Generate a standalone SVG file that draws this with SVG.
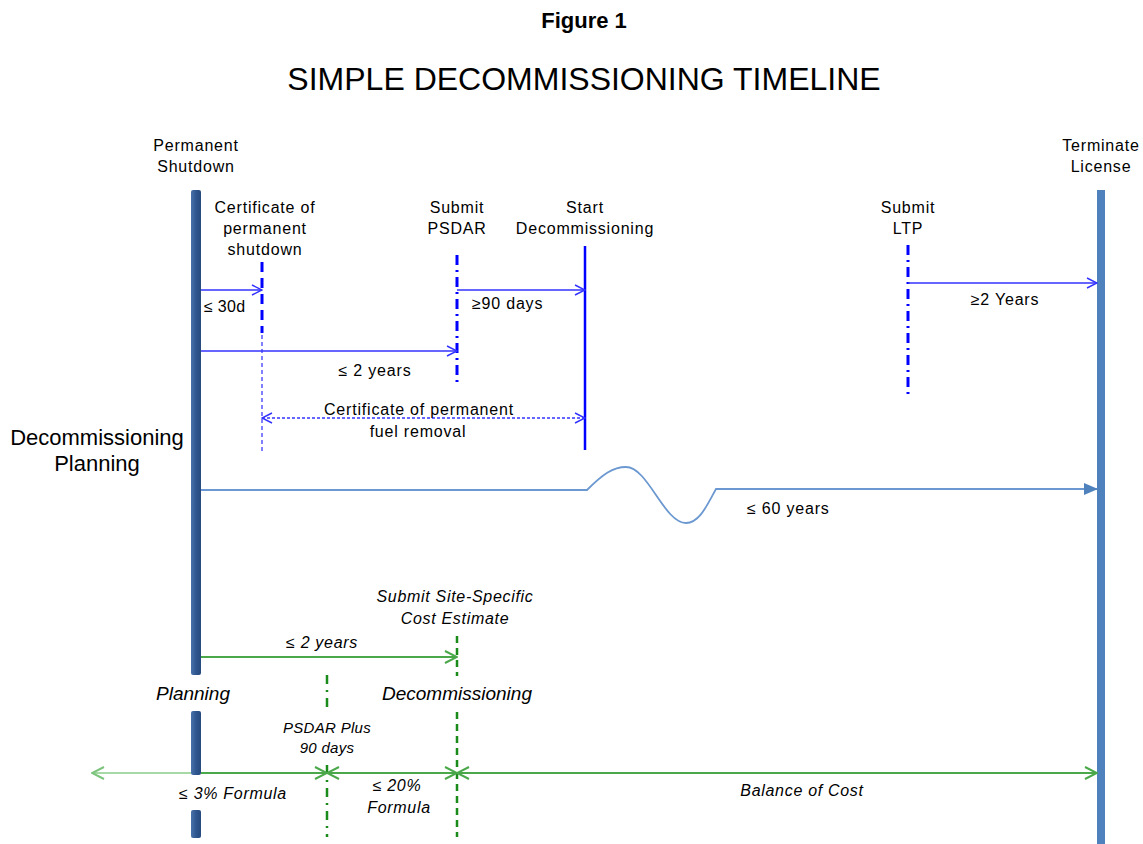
<svg xmlns="http://www.w3.org/2000/svg" width="1143" height="844" viewBox="0 0 1143 844">
<style>
text{font-family:"Liberation Sans",Arial,sans-serif;fill:#000}
.lbl{font-size:16px;letter-spacing:0.8px}
.it{font-style:italic;letter-spacing:0.7px}
.big{font-size:19px;font-style:italic}
.mid{text-anchor:middle}
.blu{stroke:#3333ff;stroke-width:1.5;fill:none}
.grn{stroke:#4aa84a;stroke-width:2;fill:none}
</style>
<defs>
<linearGradient id="barg" x1="0" x2="1" y1="0" y2="0">
<stop offset="0" stop-color="#4a72aa"/>
<stop offset="0.5" stop-color="#2f5690"/>
<stop offset="1" stop-color="#264a7e"/>
</linearGradient>
<marker id="ab" viewBox="0 0 12 12" refX="11" refY="6" markerWidth="12" markerHeight="12" markerUnits="userSpaceOnUse" orient="auto-start-reverse">
<path d="M1,1 L11,6 L1,11" fill="none" stroke="#3333ff" stroke-width="1.5"/>
</marker>
<marker id="ag" viewBox="0 0 14 14" refX="13" refY="7" markerWidth="14" markerHeight="14" markerUnits="userSpaceOnUse" orient="auto-start-reverse">
<path d="M1,1 L13,7 L1,13" fill="none" stroke="#4aa84a" stroke-width="2"/>
</marker>
<marker id="agl" viewBox="0 0 14 14" refX="13" refY="7" markerWidth="14" markerHeight="14" markerUnits="userSpaceOnUse" orient="auto-start-reverse">
<path d="M1,1 L13,7 L1,13" fill="none" stroke="#7cc47c" stroke-width="2"/>
</marker>
<marker id="af" viewBox="0 0 14 12" refX="13" refY="6" markerWidth="14" markerHeight="12" markerUnits="userSpaceOnUse" orient="auto">
<path d="M0,0 L14,6 L0,12 Z" fill="#4f81bd"/>
</marker>
</defs>

<g id="titles">
<text x="584" y="28" class="mid" font-size="22" font-weight="bold">Figure 1</text>
<text x="584" y="90" class="mid" font-size="32">SIMPLE DECOMMISSIONING TIMELINE</text>
</g>

<g id="permanent-shutdown">
<rect x="191" y="190" width="10" height="485" rx="2" fill="url(#barg)"/>
<rect x="191" y="711" width="10" height="64" rx="2" fill="url(#barg)"/>
<rect x="191" y="810" width="10" height="28" rx="2" fill="url(#barg)"/>
<text x="196" y="151" class="lbl mid">Permanent</text>
<text x="196" y="172" class="lbl mid">Shutdown</text>
</g>

<g id="terminate-license">
<rect x="1097" y="190" width="8" height="654" fill="#4f81bd"/>
<text x="1101" y="151" class="lbl mid">Terminate</text>
<text x="1101" y="172" class="lbl mid">License</text>
</g>

<g id="cert-shutdown">
<line x1="262" y1="262" x2="262" y2="333" stroke="#0000ff" stroke-width="3" stroke-dasharray="10,6"/>
<line x1="262" y1="335" x2="262" y2="452" stroke="#0000ff" stroke-width="1" stroke-dasharray="4,3"/>
<text x="265" y="213" class="lbl mid">Certificate  of</text>
<text x="265" y="234" class="lbl mid">permanent</text>
<text x="265" y="255" class="lbl mid">shutdown</text>
</g>

<g id="submit-psdar">
<line x1="457" y1="255" x2="457" y2="385" stroke="#0000ff" stroke-width="3" stroke-dasharray="10,5,2,5"/>
<text x="457" y="213" class="lbl mid">Submit</text>
<text x="457" y="234" class="lbl mid">PSDAR</text>
</g>

<g id="start-decommissioning">
<line x1="585" y1="246" x2="585" y2="450" stroke="#0000ff" stroke-width="2.5"/>
<text x="585" y="213" class="lbl mid">Start</text>
<text x="585" y="234" class="lbl mid">Decommissioning</text>
</g>

<g id="submit-ltp">
<line x1="908" y1="245" x2="908" y2="395" stroke="#0000ff" stroke-width="3" stroke-dasharray="10,5,2,5"/>
<text x="908" y="213" class="lbl mid">Submit</text>
<text x="908" y="234" class="lbl mid">LTP</text>
</g>

<g id="decom-planning">
<text x="97" y="445" class="mid" font-size="22">Decommissioning</text>
<text x="97" y="471" class="mid" font-size="22">Planning</text>
</g>

<g id="site-specific">
<line x1="457" y1="636" x2="457" y2="676" stroke="#1a8a1a" stroke-width="2.5" stroke-dasharray="7,5"/>
<line x1="457" y1="712" x2="457" y2="837" stroke="#1a8a1a" stroke-width="2.5" stroke-dasharray="7,5"/>
<text x="455" y="602" class="lbl mid it">Submit Site-Specific</text>
<text x="455" y="624" class="lbl mid it">Cost Estimate</text>
<text x="457" y="700" class="mid big">Decommissioning</text>
</g>

<g id="psdar-plus">
<line x1="327" y1="675" x2="327" y2="713" stroke="#1a8a1a" stroke-width="2.5" stroke-dasharray="9,6,2,6"/>
<line x1="327" y1="765" x2="327" y2="837" stroke="#1a8a1a" stroke-width="2.5" stroke-dasharray="9,6,2,6"/>
<text x="327" y="733" class="mid it" font-size="15" style="letter-spacing:0.3px">PSDAR Plus</text>
<text x="327" y="753" class="mid it" font-size="15" style="letter-spacing:0.3px">90 days</text>
<text x="193" y="700" class="mid big">Planning</text>
</g>

<g id="connectors">
<line x1="201" y1="290" x2="262" y2="290" class="blu" marker-end="url(#ab)"/>
<line x1="457" y1="290" x2="585" y2="290" class="blu" marker-end="url(#ab)"/>
<line x1="201" y1="351" x2="457" y2="351" class="blu" marker-end="url(#ab)"/>
<line x1="262" y1="418" x2="585" y2="418" class="blu" stroke-dasharray="3,2" marker-start="url(#ab)" marker-end="url(#ab)"/>
<line x1="908" y1="283" x2="1097" y2="283" class="blu" marker-end="url(#ab)"/>
<path d="M201,490 L587,490 C603,474 613,467 626,467 C648,467 664,523 686,523 C700,523 708,503 716,489 L1097,489" fill="none" stroke="#6b98d0" stroke-width="1.8" marker-end="url(#af)"/>
<line x1="201" y1="657" x2="457" y2="657" class="grn" marker-end="url(#ag)"/>
<line x1="191" y1="773" x2="92" y2="773" stroke="#a6d9a6" stroke-width="2" marker-end="url(#agl)"/>
<line x1="201" y1="773" x2="327" y2="773" class="grn" marker-end="url(#ag)"/>
<line x1="327" y1="773" x2="457" y2="773" class="grn" marker-start="url(#ag)" marker-end="url(#ag)"/>
<line x1="457" y1="773" x2="1097" y2="773" class="grn" marker-start="url(#ag)" marker-end="url(#ag)"/>
</g>

<g id="connector-labels">
<text x="204" y="312" class="lbl" style="letter-spacing:0.3px">≤ 30d</text>
<text x="472" y="309" class="lbl">≥90 days</text>
<text x="375" y="376" class="lbl mid">≤ 2 years</text>
<text x="419" y="415" class="lbl mid">Certificate of permanent</text>
<text x="418" y="437" class="lbl mid">fuel removal</text>
<text x="1005" y="305" class="lbl mid">≥2 Years</text>
<text x="747" y="514" class="lbl">≤  60 years</text>
<text x="322" y="648" class="lbl mid it">≤ 2 years</text>
<text x="233" y="799" class="lbl mid it">≤ 3%  Formula</text>
<text x="397" y="791" class="lbl mid it">≤ 20%</text>
<text x="399" y="813" class="lbl mid it">Formula</text>
<text x="802" y="796" class="lbl mid it">Balance of Cost</text>
</g>
</svg>
